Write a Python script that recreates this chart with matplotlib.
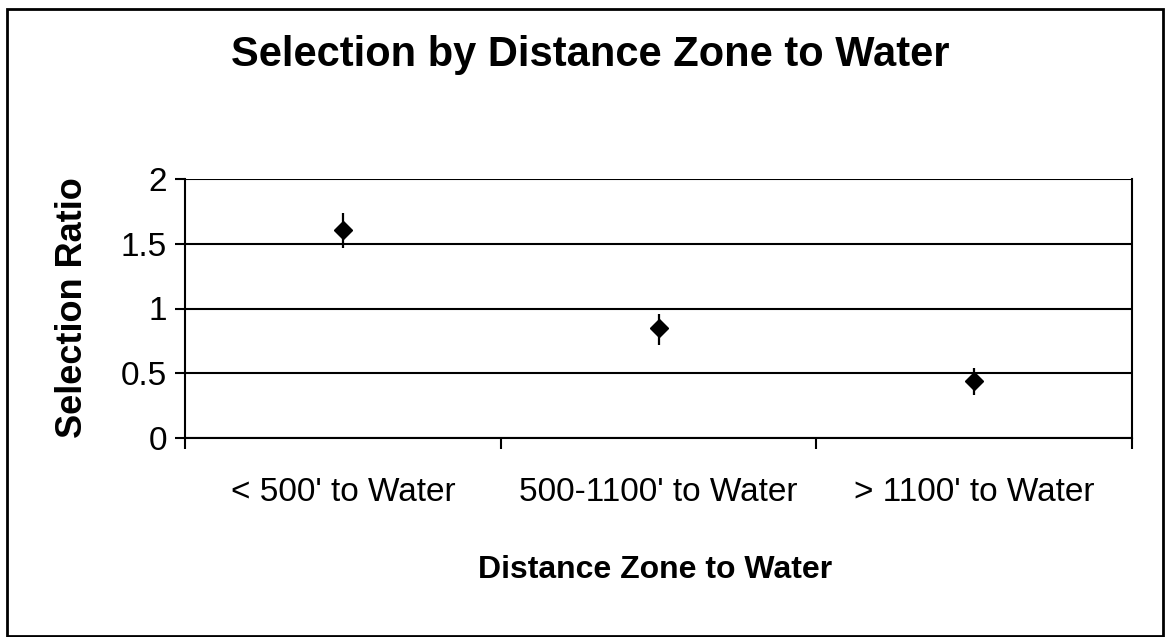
import matplotlib
matplotlib.use("Agg")
import matplotlib.pyplot as plt
from matplotlib.patches import Rectangle

categories = ["< 500' to Water", "500-1100' to Water", "> 1100' to Water"]
ratios = [1.61, 0.85, 0.44]
err_low = [0.14, 0.13, 0.11]
err_high = [0.13, 0.11, 0.10]
yticks = [0, 0.5, 1, 1.5, 2]
ytick_labels = ["0", "0.5", "1", "1.5", "2"]

plt.rcParams['font.family'] = ['Liberation Sans', 'DejaVu Sans']

W, H = 1165, 637
fig = plt.figure(figsize=(W / 100, H / 100), dpi=100)
fig.patch.set_facecolor("white")

# outer border
fig.patches.append(Rectangle((7 / W, 1 - 636 / H), (1163 - 7) / W, (636 - 9) / H,
                             transform=fig.transFigure, fill=False,
                             edgecolor="black", linewidth=2))

ax = fig.add_axes([185 / W, 1 - 438 / H, 947 / W, (438 - 179) / H])
x = list(range(len(categories)))
ax.errorbar(x, ratios, yerr=[err_low, err_high], fmt="D", color="black",
            markersize=9, elinewidth=1.6, capsize=0, zorder=3)

ax.set_xlim(-0.5, len(categories) - 0.5)
ax.set_ylim(0, 2)
ax.set_yticks(yticks)
ax.set_yticklabels(ytick_labels, fontsize=24)
ax.yaxis.grid(True, color="black", linewidth=1.5)
ax.set_axisbelow(True)

ax.set_xticks([i - 0.5 for i in range(len(categories) + 1)])
ax.set_xticklabels([])
ax.set_xticks(x, minor=True)
ax.set_xticklabels(categories, minor=True, fontsize=24)
ax.tick_params(axis="x", which="major", length=8, width=1.5, direction="out")
ax.tick_params(axis="x", which="minor", length=0, pad=28)
ax.tick_params(axis="y", length=7, width=1.5, direction="out", pad=6)

for s in ["left", "bottom", "right"]:
    ax.spines[s].set_linewidth(1.5)
    ax.spines[s].set_color("black")
ax.spines["top"].set_visible(False)

fig.text(590 / W, 1 - 55 / H, "Selection by Distance Zone to Water",
         ha="center", va="center", fontsize=30, fontweight="bold")
fig.text(655 / W, 1 - 570 / H, "Distance Zone to Water",
         ha="center", va="center", fontsize=23, fontweight="bold")
fig.text(72 / W, 1 - 308 / H, "Selection Ratio", rotation=90,
         ha="center", va="center", fontsize=26, fontweight="bold")

fig.savefig("out.png", dpi=100)
